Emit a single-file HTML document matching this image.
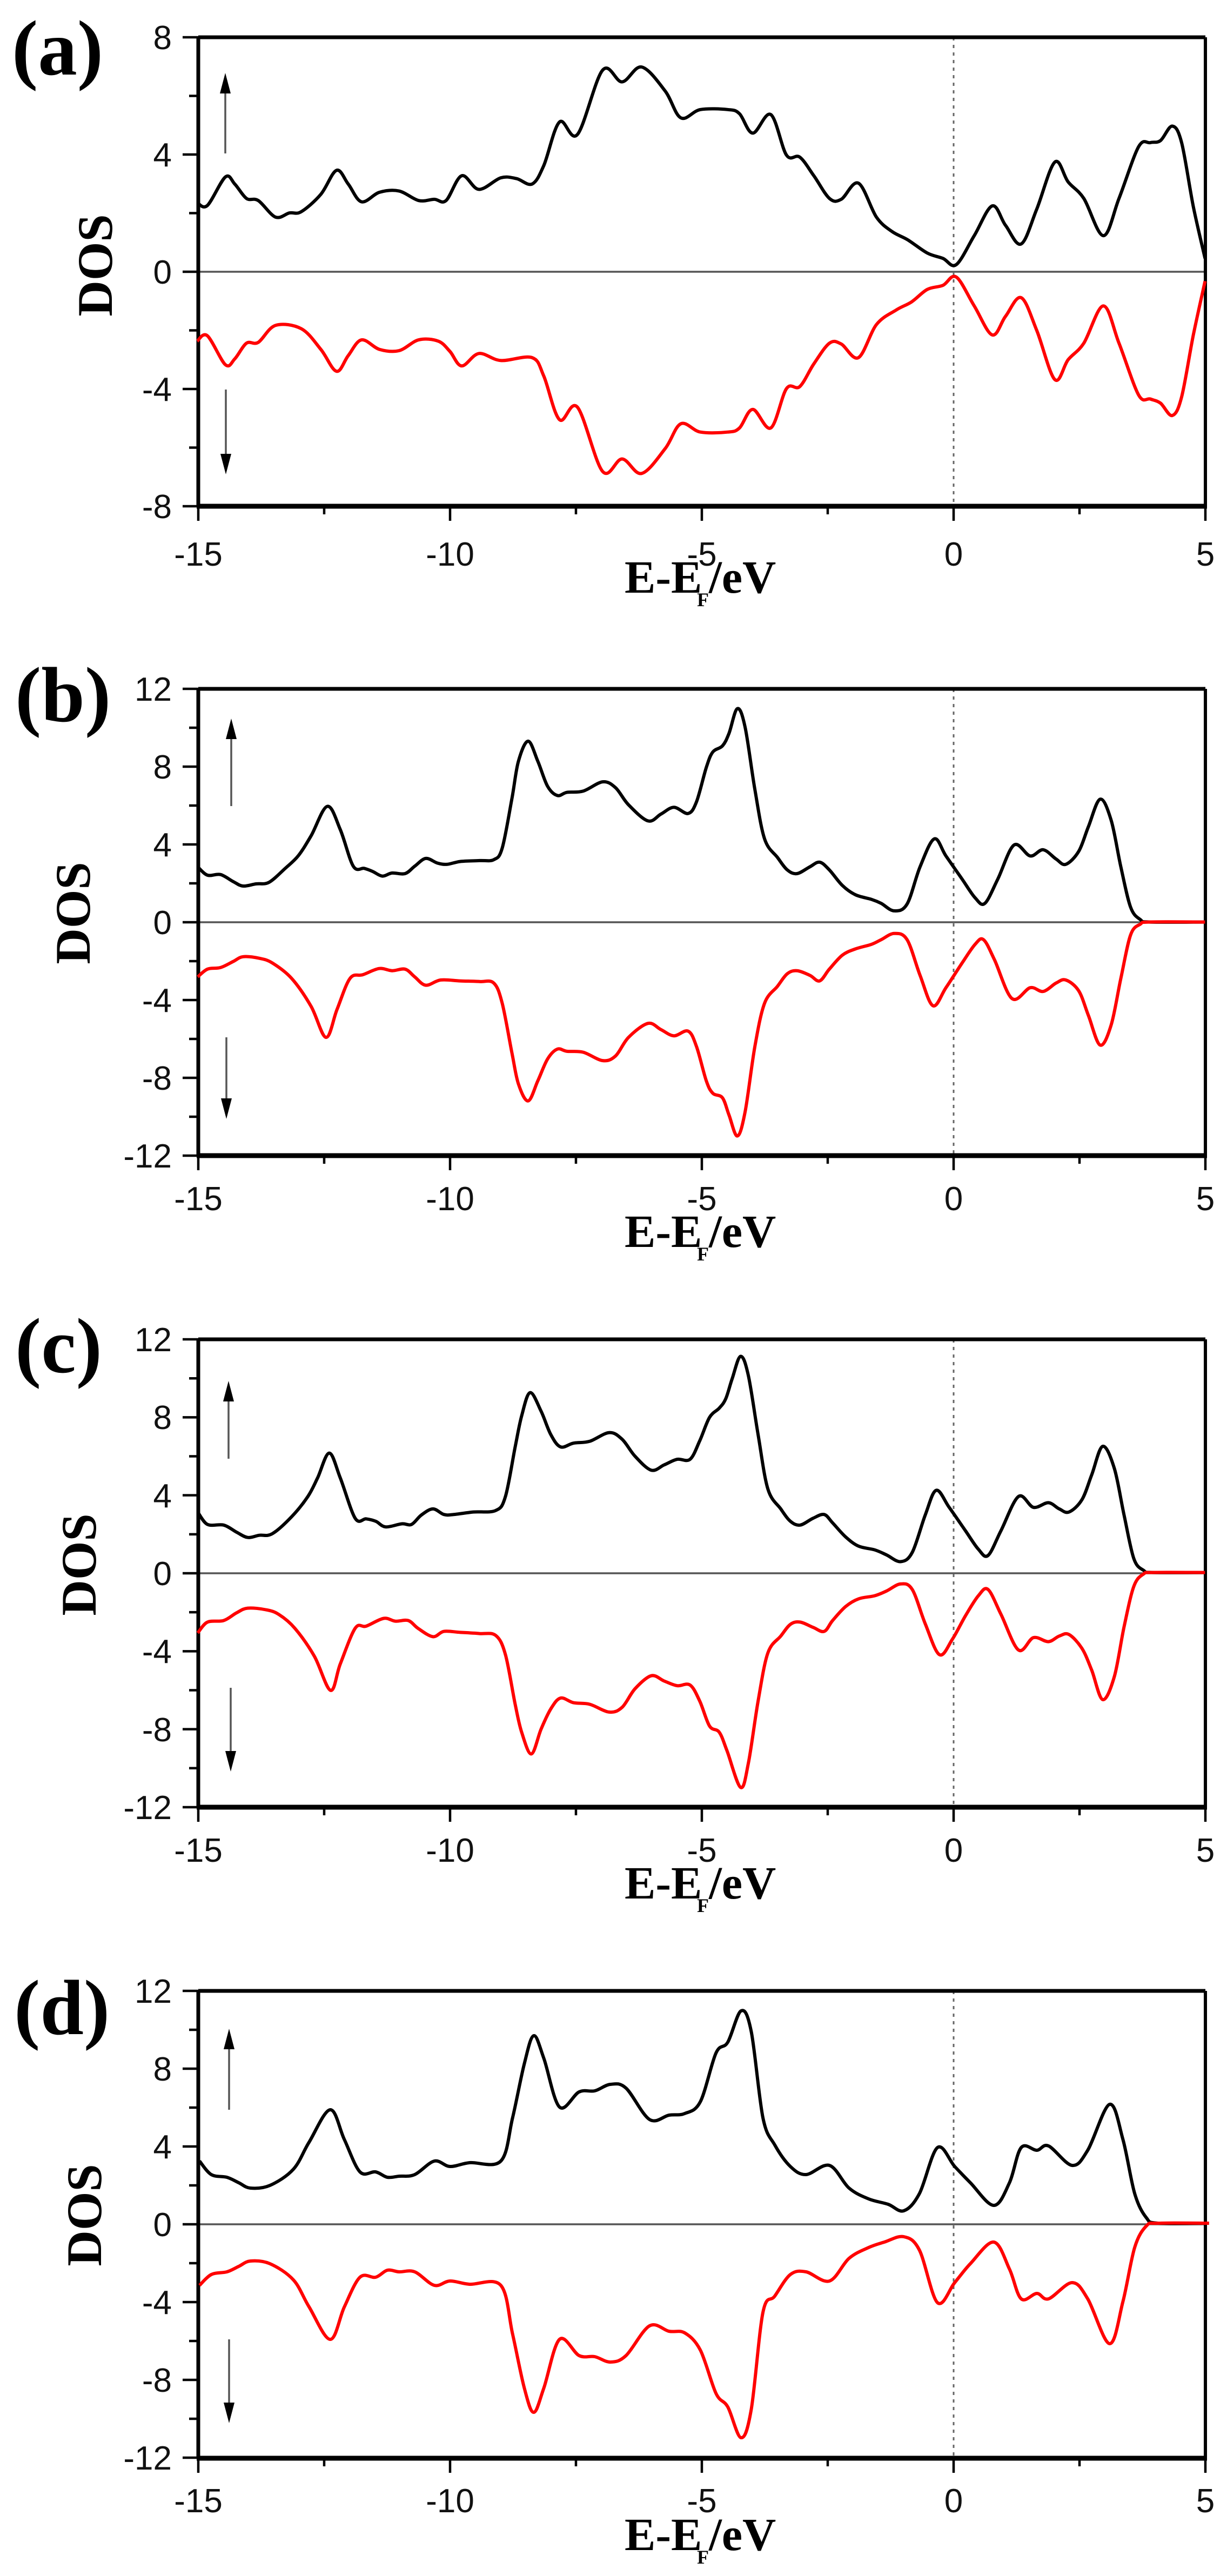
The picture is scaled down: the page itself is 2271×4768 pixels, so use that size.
<!DOCTYPE html>
<html><head><meta charset="utf-8"><style>
html,body{margin:0;padding:0;background:#fff;}
svg{display:block;}
.tl{font-family:"Liberation Sans",sans-serif;font-size:62px;fill:#111;}
.pl{font-family:"Liberation Serif",serif;font-weight:bold;font-size:145px;fill:#000;}
.xl{font-family:"Liberation Serif",serif;font-weight:bold;font-size:86px;fill:#000;}
.yl{font-family:"Liberation Serif",serif;font-weight:bold;font-size:92px;fill:#000;}
.sub{font-family:"Liberation Serif",serif;font-weight:bold;font-size:36px;fill:#000;}
</style></head><body>
<svg id="s" width="2271" height="4768" viewBox="0 0 2271 4768" xmlns="http://www.w3.org/2000/svg">
<rect width="2271" height="4768" fill="#fff"/>
<g id="g"></g>
<text class="pl" x="22" y="138">(a)</text>
<text class="pl" x="28" y="1335">(b)</text>
<text class="pl" x="28" y="2540">(c)</text>
<text class="pl" x="26" y="3765">(d)</text>

<text class="yl" transform="translate(207,491) rotate(-90)" text-anchor="middle">DOS</text>
<text class="yl" transform="translate(166,1690) rotate(-90)" text-anchor="middle">DOS</text>
<text class="yl" transform="translate(177,2896) rotate(-90)" text-anchor="middle">DOS</text>
<text class="yl" transform="translate(187,4100) rotate(-90)" text-anchor="middle">DOS</text>

<text class="xl" x="1156" y="1097">E-E</text><text class="sub" x="1290" y="1122">F</text><text class="xl" x="1312" y="1097">/eV</text>
<text class="xl" x="1156" y="2308">E-E</text><text class="sub" x="1290" y="2333">F</text><text class="xl" x="1312" y="2308">/eV</text>
<text class="xl" x="1156" y="3514">E-E</text><text class="sub" x="1290" y="3539">F</text><text class="xl" x="1312" y="3514">/eV</text>
<text class="xl" x="1156" y="4720">E-E</text><text class="sub" x="1290" y="4745">F</text><text class="xl" x="1312" y="4720">/eV</text>

<g class="tl" text-anchor="middle">
<text x="367" y="1047">-15</text><text x="833" y="1047">-10</text><text x="1299" y="1047">-5</text><text x="1765" y="1047">0</text><text x="2231" y="1047">5</text>
<text x="367" y="2240">-15</text><text x="833" y="2240">-10</text><text x="1299" y="2240">-5</text><text x="1765" y="2240">0</text><text x="2231" y="2240">5</text>
<text x="367" y="3446">-15</text><text x="833" y="3446">-10</text><text x="1299" y="3446">-5</text><text x="1765" y="3446">0</text><text x="2231" y="3446">5</text>
<text x="367" y="4650">-15</text><text x="833" y="4650">-10</text><text x="1299" y="4650">-5</text><text x="1765" y="4650">0</text><text x="2231" y="4650">5</text>
</g>
<g class="tl" text-anchor="end">
<text x="318" y="91">8</text><text x="318" y="308">4</text><text x="318" y="525">0</text><text x="318" y="742">-4</text><text x="318" y="959">-8</text>
<text x="318" y="1297">12</text><text x="318" y="1441">8</text><text x="318" y="1585">4</text><text x="318" y="1729">0</text><text x="318" y="1873">-4</text><text x="318" y="2017">-8</text><text x="318" y="2161">-12</text>
<text x="318" y="2501">12</text><text x="318" y="2645">8</text><text x="318" y="2790">4</text><text x="318" y="2934">0</text><text x="318" y="3078">-4</text><text x="318" y="3223">-8</text><text x="318" y="3367">-12</text>
<text x="318" y="3707">12</text><text x="318" y="3851">8</text><text x="318" y="3995">4</text><text x="318" y="4139">0</text><text x="318" y="4283">-4</text><text x="318" y="4427">-8</text><text x="318" y="4571">-12</text>
</g>
</svg>
<script>
var NS="http://www.w3.org/2000/svg",G=document.getElementById("g");
function el(t,a){var e=document.createElementNS(NS,t);for(var k in a)e.setAttribute(k,a[k]);G.appendChild(e);return e;}
var L=367,R=2231,ux=(R-L)/20;
var panels=[
 {T:69,B:937,Z:503,u:54.25,ym:8,arr:[[417,284,135],[418,721,878]]},
 {T:1275,B:2139,Z:1707,u:36,ym:12,arr:[[428,1492,1330],[419,1920,2071]]},
 {T:2479,B:3345,Z:2912,u:36.08,ym:12,arr:[[423,2700,2556],[427,3124,3279]]},
 {T:3685,B:4550,Z:4117,u:36,ym:12,arr:[[424,3905,3755],[424,4330,4485]]}
];
panels.forEach(function(p){
 el("line",{x1:L,x2:R,y1:p.Z,y2:p.Z,stroke:"#555","stroke-width":3.5});
 el("line",{x1:1765,x2:1765,y1:p.T,y2:p.B,stroke:"#666","stroke-width":3,"stroke-dasharray":"6,8"});
 for(var v=-p.ym;v<=p.ym;v+=2){var y=p.Z-v*p.u;var maj=(v%4===0);
  el("line",{x1:maj?338:350,x2:L,y1:y,y2:y,stroke:"#000","stroke-width":4.5});}
 for(var e=-15;e<=5;e+=2.5){var x=L+(e+15)*ux;var maj=(e%5===0);
  el("line",{x1:x,x2:x,y1:p.B,y2:p.B+(maj?27:15),stroke:"#000","stroke-width":4.5});}
 el("line",{x1:L,x2:R,y1:p.T,y2:p.T,stroke:"#000","stroke-width":7});
 el("line",{x1:L-3,x2:R+3,y1:p.B,y2:p.B,stroke:"#000","stroke-width":9});
 el("line",{x1:L,x2:L,y1:p.T,y2:p.B,stroke:"#000","stroke-width":7});
 el("line",{x1:R,x2:R,y1:p.T,y2:p.B,stroke:"#000","stroke-width":6});
 p.arr.forEach(function(a){var x=a[0],y0=a[1],y1=a[2],d=y1<y0?1:-1;
  el("line",{x1:x,x2:x,y1:y0,y2:y1+d*30,stroke:"#555","stroke-width":3.5});
  el("polygon",{points:x+","+y1+" "+(x-10)+","+(y1+d*38)+" "+(x+10)+","+(y1+d*38),fill:"#000"});});
});
function path(pts){var d="M"+pts[0][0]+","+pts[0][1];
 for(var i=0;i<pts.length-1;i++){var p0=pts[i-1]||pts[i],p1=pts[i],p2=pts[i+1],p3=pts[i+2]||p2;
  var c1=[p1[0]+(p2[0]-p0[0])/6,p1[1]+(p2[1]-p0[1])/6],c2=[p2[0]-(p3[0]-p1[0])/6,p2[1]-(p3[1]-p1[1])/6];
  d+=" C"+c1[0].toFixed(1)+","+c1[1].toFixed(1)+" "+c2[0].toFixed(1)+","+c2[1].toFixed(1)+" "+p2[0].toFixed(1)+","+p2[1].toFixed(1);}
 return d;}
function conv(arr,ox,oy,sx,sy){var o=[];for(var i=0;i<arr.length;i+=2)o.push([ox+arr[i]*sx,oy+arr[i+1]*sy]);return o;}
function draw(arr,ox,oy,sx,sy,col){el("path",{d:path(conv(arr,ox,oy,sx,sy)),fill:"none",stroke:col,"stroke-width":6,"stroke-linejoin":"round"});}
var S1x=2271/1568,S1y=1200/1568;
var aK=[252,490,265,497,288,428,300,445,315,480,330,485,352,525,370,515,385,512,410,470,430,412,445,445,462,488,485,465,510,462,535,485,555,482,570,485,590,425,612,458,640,430,660,432,680,445,695,400,715,295,738,325,770,170,795,198,820,162,850,220,870,285,895,265,930,265,945,275,962,322,985,277,1005,375,1022,380,1040,425,1060,480,1075,482,1097,443,1120,525,1140,560,1160,580,1185,612,1205,625,1222,640,1245,570,1268,498,1285,545,1305,590,1325,505,1348,392,1365,440,1385,480,1410,570,1430,480,1455,355,1470,345,1483,340,1498,305,1510,345,1525,500,1540,625];
var aR=[252,825,265,812,288,882,300,868,315,830,330,828,352,787,385,795,410,845,430,898,445,860,462,822,485,845,510,848,535,822,560,825,575,850,590,885,612,855,640,872,680,865,695,910,715,1015,738,985,770,1140,795,1110,820,1145,850,1085,870,1025,895,1045,930,1045,945,1035,962,990,985,1035,1005,940,1022,935,1040,880,1060,830,1075,832,1097,865,1120,785,1145,750,1165,730,1185,700,1205,690,1222,670,1245,740,1268,810,1285,765,1305,720,1325,800,1348,918,1365,870,1385,830,1410,740,1430,830,1455,955,1470,965,1483,975,1498,1005,1510,960,1525,810,1540,680];
draw(aK,0,0,S1x,S1y,"#000");draw(aR,0,0,S1x,S1y,"#f00");
var S7x=1880/1568,S7y=900/1568;
var bK=[5,600,20,627,40,625,60,648,75,662,95,655,115,650,140,605,160,565,180,500,205,405,225,480,245,598,262,605,275,615,290,630,305,620,325,622,340,598,357,573,375,588,390,592,410,583,440,580,462,577,475,540,490,380,500,260,515,195,530,260,545,340,560,370,575,360,600,356,630,326,650,345,670,400,700,452,720,430,740,408,762,428,775,390,790,280,800,230,815,210,825,170,838,90,850,150,865,350,880,510,900,570,915,610,930,622,950,600,965,585,980,610,1000,660,1020,690,1045,705,1060,718,1080,742,1100,720,1120,600,1142,510,1160,565,1185,640,1205,700,1220,718,1240,640,1265,530,1290,565,1310,545,1330,575,1345,592,1365,550,1380,470,1398,382,1415,450,1430,600,1445,730,1460,770,1475,778,1560,778];
var bR=[5,955,20,930,40,925,60,905,75,890,100,895,120,910,150,960,180,1050,203,1150,220,1060,240,960,260,948,285,928,305,935,325,930,340,955,357,982,380,965,410,968,440,970,462,975,475,1040,490,1200,500,1300,515,1355,530,1290,545,1220,560,1188,575,1195,600,1198,630,1225,650,1210,670,1150,700,1105,720,1125,740,1145,762,1130,775,1180,790,1290,800,1330,815,1345,825,1400,838,1468,850,1390,865,1180,880,1040,900,985,915,945,930,935,950,950,965,968,980,930,1000,885,1020,865,1045,850,1060,835,1080,815,1100,835,1120,950,1140,1048,1160,990,1185,910,1205,850,1218,835,1235,900,1262,1025,1290,990,1310,1002,1330,975,1345,965,1365,1000,1380,1080,1398,1175,1415,1110,1430,960,1445,820,1460,785,1475,778,1560,778];
draw(bK,360,1260,S7x,S7y,"#000");draw(bR,360,1260,S7x,S7y,"#f00");
var cK=[5,590,20,630,45,632,65,655,82,672,100,665,120,660,150,605,175,540,190,480,208,400,225,480,248,610,265,612,280,620,295,638,320,628,335,630,350,600,368,580,385,598,400,598,430,590,465,585,480,540,495,380,505,280,518,205,535,265,550,340,565,380,585,368,610,362,640,334,660,355,680,410,705,455,725,438,745,420,765,420,780,360,795,285,810,255,820,225,830,160,843,88,855,150,870,340,885,515,905,580,920,620,935,632,955,610,972,598,985,625,1005,670,1025,700,1050,712,1068,728,1090,750,1108,720,1128,600,1145,520,1165,575,1190,650,1210,710,1225,730,1245,650,1272,540,1295,575,1318,560,1335,580,1350,590,1370,550,1385,470,1402,378,1420,450,1435,600,1450,740,1465,778,1480,785,1560,785];
var cR=[5,980,20,945,45,940,65,915,82,900,110,905,130,920,155,965,185,1055,210,1165,225,1080,248,965,265,958,292,933,310,942,330,940,345,965,368,992,385,975,410,978,440,982,465,988,480,1050,495,1210,505,1300,520,1370,535,1290,550,1225,565,1190,585,1205,610,1210,640,1235,660,1220,680,1160,705,1118,725,1135,745,1150,765,1148,780,1200,795,1280,810,1300,822,1360,843,1478,855,1400,870,1200,885,1045,905,990,920,952,935,945,955,962,972,975,985,940,1005,895,1025,870,1050,860,1068,845,1090,822,1108,840,1128,950,1150,1050,1170,1000,1190,925,1210,860,1225,840,1245,920,1272,1035,1295,995,1318,1008,1335,990,1350,985,1370,1030,1385,1100,1402,1195,1420,1120,1435,960,1450,830,1465,790,1480,785,1560,785];
draw(cK,360,2460,S7x,S7y,"#000");draw(cR,360,2460,S7x,S7y,"#f00");
var dK=[255,800,270,825,290,830,305,840,320,850,345,845,375,815,395,765,422,705,440,760,460,820,480,820,495,830,510,828,530,825,555,800,575,810,600,803,640,800,655,720,670,620,682,568,695,610,715,700,740,672,760,670,780,658,800,665,830,723,855,715,875,712,895,690,915,600,930,580,947,522,960,560,975,720,990,770,1010,810,1030,825,1060,808,1085,850,1110,870,1135,880,1155,892,1175,860,1198,775,1220,810,1240,840,1270,882,1290,840,1305,775,1325,780,1340,772,1370,808,1390,780,1418,695,1435,760,1450,860,1465,905,1480,915,1545,915];
var dR=[255,1030,270,1010,290,1005,305,995,320,985,345,990,375,1020,395,1070,422,1130,440,1070,460,1015,480,1015,495,1002,510,1005,530,1005,555,1030,575,1022,600,1028,640,1030,655,1120,670,1220,682,1265,695,1220,715,1130,740,1160,760,1162,780,1172,800,1160,830,1105,855,1115,875,1118,895,1150,915,1230,930,1255,947,1312,960,1260,975,1080,990,1050,1010,1010,1030,1005,1060,1022,1085,980,1110,960,1130,950,1155,940,1175,965,1198,1062,1220,1025,1240,990,1270,950,1290,1000,1305,1055,1325,1045,1340,1055,1370,1025,1390,1055,1418,1138,1435,1060,1450,960,1465,920,1480,915,1545,915];
draw(dK,0,3200,S1x,1,"#000");draw(dR,0,3200,S1x,1,"#f00");
</script>
</body></html>
